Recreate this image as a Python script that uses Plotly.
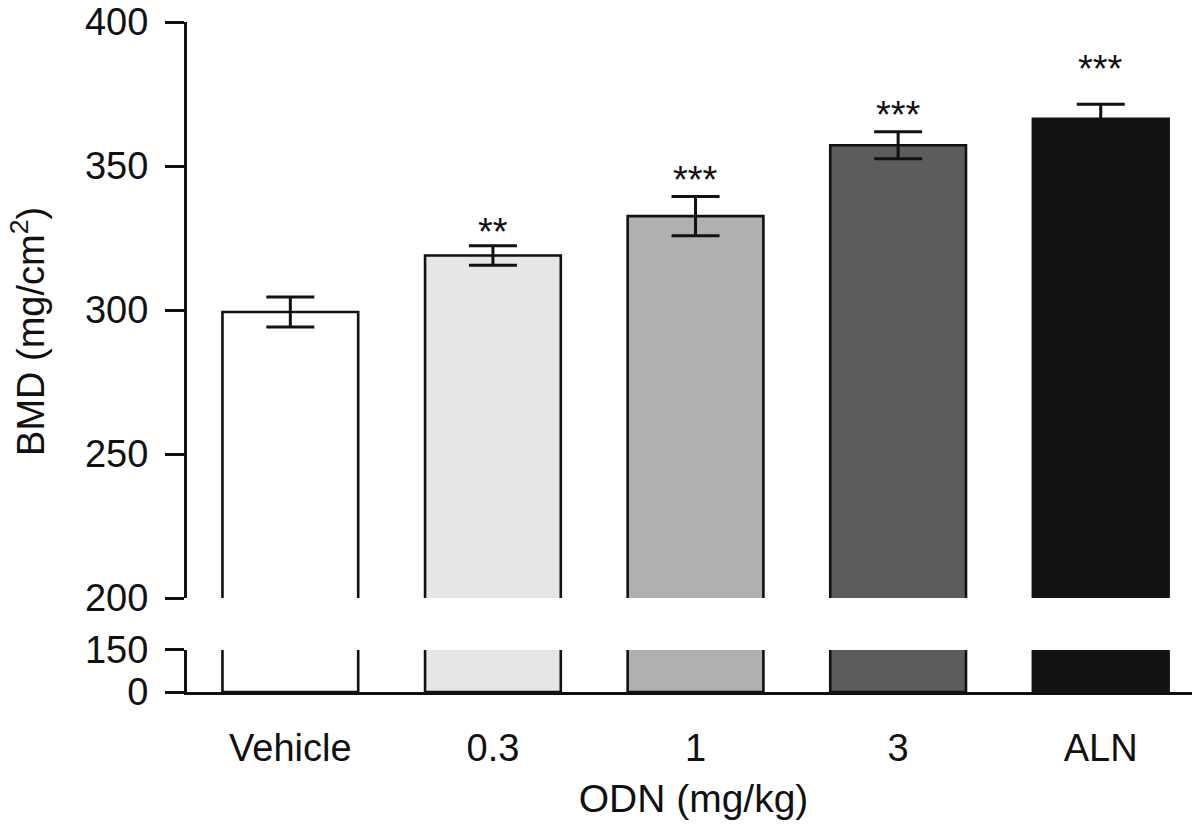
import plotly.graph_objects as go

categories = ["Vehicle", "0.3", "1", "3", "ALN"]
bmd_mean = [299.3, 318.9, 332.6, 357.2, 366.4]
bmd_sem = [5.2, 3.4, 6.8, 4.7, 5.0]
significance = ["", "**", "***", "***", "***"]
bar_colors = ["#ffffff", "#e6e6e6", "#b0b0b0", "#5c5c5c", "#111111"]
upper_ticks = [200, 250, 300, 350, 400]
lower_ticks = [0, 150]

FONT = "Liberation Sans, Arial, Helvetica, sans-serif"
INK = "#111111"

xpos = list(range(len(categories)))

fig = go.Figure()

fig.add_trace(go.Bar(
    x=xpos, y=bmd_mean,
    marker=dict(color=bar_colors, line=dict(color=INK, width=2.6)),
    error_y=dict(type="data", array=bmd_sem, visible=True,
                 color=INK, thickness=3, width=24),
    width=0.67, xaxis="x", yaxis="y", showlegend=False,
))
fig.add_trace(go.Bar(
    x=xpos, y=bmd_mean,
    marker=dict(color=bar_colors, line=dict(color=INK, width=2.6)),
    width=0.67, xaxis="x2", yaxis="y2", showlegend=False,
))

# vertical pixel nudges for the significance marks (style only)
star_shift = [0, -9, -6, -6, 12]
for xi, m, s, sig, sh in zip(xpos, bmd_mean, bmd_sem, significance, star_shift):
    if sig:
        fig.add_annotation(x=xi, y=m + s, xref="x", yref="y", text=sig,
                           showarrow=False, yanchor="bottom", yshift=sh,
                           font=dict(family=FONT, size=38, color=INK))

# y-axis title as a rotated annotation so it can be centred like the reference
fig.add_annotation(x=-0.157, y=0.5388, xref="paper", yref="paper",
                   text="BMD (mg/cm<sup>2</sup>)", textangle=-90,
                   showarrow=False, xanchor="center", yanchor="middle",
                   font=dict(family=FONT, size=38, color=INK))

# page body has an 8px margin: figure is 1192x816 so the plot lands at 1200x824 coords
fig.update_layout(
    width=1192, height=816,
    margin=dict(l=179, r=0, t=14, b=132, autoexpand=False),
    paper_bgcolor="white", plot_bgcolor="white",
    font=dict(family=FONT, color=INK, size=38),
    xaxis=dict(domain=[0, 1], anchor="y", visible=False,
               range=[-0.51, 4.49], automargin=False),
    yaxis=dict(domain=[0.1403, 1], range=[200, 400], tickvals=upper_ticks,
               showline=True, linecolor=INK, linewidth=3, ticks="outside",
               ticklen=19, tickwidth=3, tickcolor=INK, showgrid=False,
               zeroline=False, tickfont=dict(size=38), automargin=False,
               ticklabelstandoff=9, ticklabeloverflow="allow"),
    xaxis2=dict(domain=[0, 1], anchor="y2", range=[-0.51, 4.49],
                tickvals=xpos, ticktext=categories,
                showline=True, linecolor=INK, linewidth=3, ticks="",
                showgrid=False, zeroline=False, tickfont=dict(size=38), automargin=False,
                ticklabelstandoff=20, ticklabeloverflow="allow",
                title=dict(text="ODN (mg/kg)", font=dict(size=39), standoff=18)),
    yaxis2=dict(domain=[0, 0.0627], range=[0, 150], tickvals=lower_ticks,
                showline=True, linecolor=INK, linewidth=3, ticks="outside",
                ticklen=19, tickwidth=3, tickcolor=INK, showgrid=False,
                zeroline=False, tickfont=dict(size=38), automargin=False,
                ticklabelstandoff=9, ticklabeloverflow="allow"),
)

fig.write_html("out.html")
